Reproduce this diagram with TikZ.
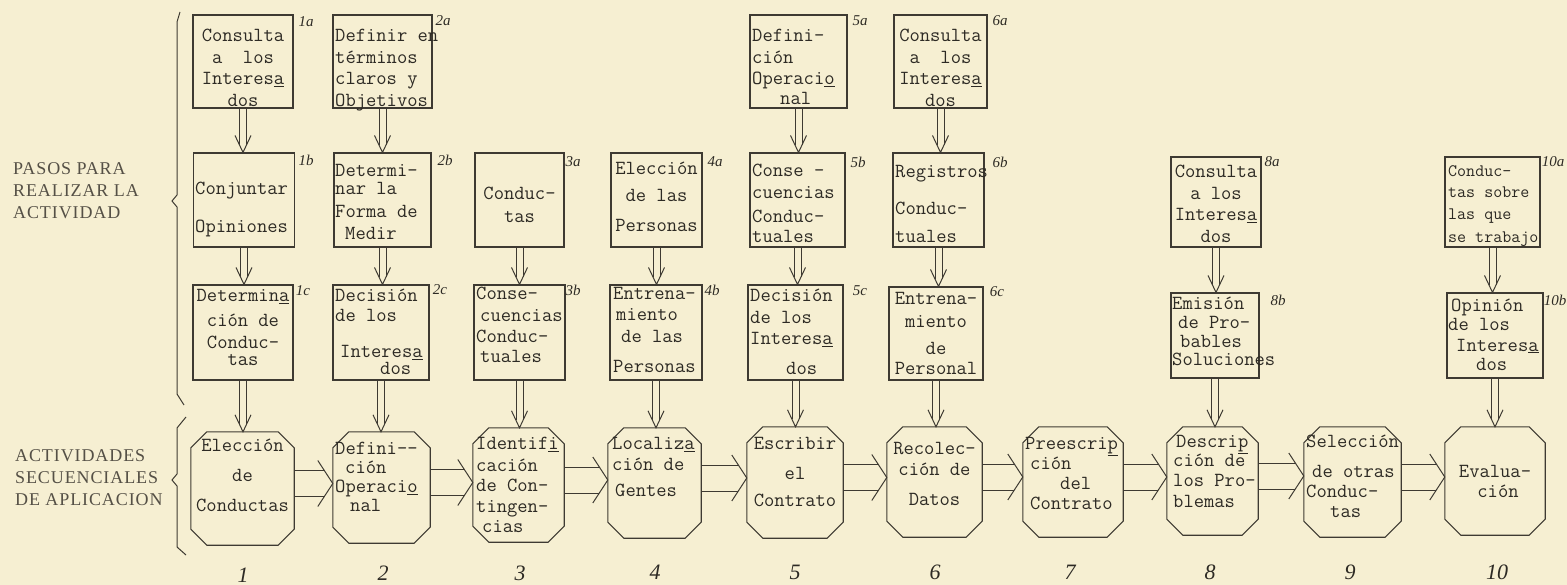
\documentclass[tikz,border=0pt]{standalone}
\usepackage{fontspec}
\usetikzlibrary{calc}
\newfontfamily\lblfont{Liberation Serif}
\newfontfamily\sidefont[LetterSpace=5]{Liberation Serif}
\definecolor{bgc}{RGB}{246,239,210}
\definecolor{linec}{RGB}{62,58,50}
\definecolor{textc}{RGB}{45,42,36}
\definecolor{lblc}{RGB}{85,80,70}
\def\ch{16}
\tikzset{
  boxline/.style={draw=linec, line width=1.1pt, line join=miter},
  stepbox/.style={boxline, rectangle, inner sep=0pt},
  actnode/.style={rectangle, inner sep=0pt},
  conn/.style={draw=linec, line width=1.0pt},
  btxt/.style={font=\ttfamily\fontsize{20}{21.5}\selectfont, inner sep=0pt, text=textc, align=center, anchor=north},
  btxtl/.style={font=\ttfamily\fontsize{20}{21.5}\selectfont, inner sep=0pt, text=textc, align=left, anchor=north west},
  tag/.style={font=\lblfont\itshape\fontsize{15}{15}\selectfont, inner sep=0pt, text=textc},
  numtag/.style={font=\lblfont\itshape\fontsize{22}{22}\selectfont, inner sep=0pt, text=textc},
  sidelbl/.style={font=\sidefont\fontsize{18}{22}\selectfont, inner sep=0pt, text=lblc, align=left, anchor=north west},
}
\newcommand\mkstep[5]{\node[stepbox, minimum width=#4pt, minimum height=#5pt] (#1) at (#2,#3) {};}
\newcommand\octo[5]{%
  \node[actnode, minimum width=#4pt, minimum height=#5pt] (#1) at (#2,#3) {};
  \draw[boxline] ($(#1.north west)+(\ch,0)$) -- ($(#1.north east)+(-\ch,0)$) -- ($(#1.north east)+(0,\ch)$) -- ($(#1.south east)+(0,-\ch)$) -- ($(#1.south east)+(-\ch,0)$) -- ($(#1.south west)+(\ch,0)$) -- ($(#1.south west)+(0,-\ch)$) -- ($(#1.north west)+(0,\ch)$) -- cycle;}
\newcommand\vconn[2]{%
  \draw[conn] ($(#1.south)+(-3.5,0)$) -- ($(#1.south |- #2.north)+(-3.5,-7.5)$);
  \draw[conn] ($(#1.south)+(3.5,0)$) -- ($(#1.south |- #2.north)+(3.5,-7.5)$);
  \draw[conn] ($(#1.south |- #2.north)+(-8,-17)$) -- (#1.south |- #2.north) -- ($(#1.south |- #2.north)+(8,-17)$);}
\newcommand\hconn[2]{%
  \draw[conn] ($(#1.east)+(0,-18)$) -- ($(#2.west |- #1.east)+(-8.5,-18)$);
  \draw[conn] ($(#1.east)+(0,8)$) -- ($(#2.west |- #1.east)+(-8.5,8)$);
  \draw[conn] ($(#2.west |- #1.east)+(-15,-28)$) -- ($(#2.west |- #1.east)+(0,-5)$) -- ($(#2.west |- #1.east)+(-15,18)$);}
\begin{document}
\begin{tikzpicture}[x=1pt,y=-1pt]
\fill[bgc] (0,0) rectangle (1567,585);
\useasboundingbox (0,0) rectangle (1567,585);

% side labels and braces
\node[sidelbl] (lblA) at (13,162) {PASOS PARA\\REALIZAR LA\\ACTIVIDAD};
\node[sidelbl] (lblB) at (15,449) {ACTIVIDADES\\SECUENCIALES\\DE APLICACION};
\draw[conn] (180,12) -- (177,22) -- (177,195) -- (172,201) -- (177,207) -- (177,394) -- (184,405);
\draw[conn] (186,417) -- (177,428) -- (177,474) -- (172,480) -- (177,486) -- (177,547) -- (186,555);

% step boxes
\mkstep{b1a}{243}{61.5}{100}{93}
\mkstep{b1b}{244}{200}{101}{94}
\mkstep{b1c}{243}{332.5}{100}{95}
\mkstep{b2a}{382.5}{61.5}{99}{93}
\mkstep{b2b}{382.5}{200}{97}{94}
\mkstep{b2c}{381}{332.5}{96}{95}
\mkstep{b3a}{519.5}{200}{89}{94}
\mkstep{b3b}{519.5}{332.5}{91}{95}
\mkstep{b4a}{656.5}{200}{91}{94}
\mkstep{b4b}{656}{332.5}{92}{95}
\mkstep{b5a}{798.5}{61.5}{97}{93}
\mkstep{b5b}{797.5}{200}{95}{94}
\mkstep{b5c}{795.5}{332.5}{95}{95}
\mkstep{b6a}{940.5}{61.5}{93}{93}
\mkstep{b6b}{938.5}{200}{91}{94}
\mkstep{b6c}{936}{333.5}{94}{93}
\mkstep{b8a}{1216}{202}{90}{90}
\mkstep{b8b}{1215}{335.5}{88}{85}
\mkstep{b10a}{1492.5}{202}{95}{90}
\mkstep{b10b}{1495}{335.5}{96}{85}

% activity octagons
\octo{o1}{242.5}{488.5}{103}{113}
\octo{o2}{381.5}{487.5}{97}{111}
\octo{o3}{518.5}{485}{91}{114}
\octo{o4}{654.5}{483}{93}{110}
\octo{o5}{795}{482.5}{96}{111}
\octo{o6}{934.5}{482}{95}{110}
\octo{o7}{1073}{482}{100}{110}
\octo{o8}{1212.5}{481}{91}{108}
\octo{o9}{1352.5}{482}{97}{110}
\octo{o10}{1495}{481}{100}{108}

% texts in step boxes
\node[btxt] (t1a) at (243,29) {Consulta\\a~~los\\Interes\underline{a}\\dos};
\node[btxtl] (t1b) at (195,182) {Conjuntar\\[16.5pt]Opiniones};
\node[btxt] (t1c) at (243,289) {Determin\underline{a}\\[4pt]ción de\\Conduc-\\[-4pt]tas};
\node[btxtl] (t2a) at (335,29) {Definir en\\términos\\claros y\\Objetivos};
\node[btxtl] (t2b) at (335,164) {Determi-\\[-3.5pt]nar la\\[1.5pt]Forma de\\[0.5pt]\hspace*{10pt}Medir};
\node[btxtl] (t2c) at (335,289) {Decisión\\[-1.5pt]de los\\[14.5pt]\hspace*{5pt}Interes\underline{a}\\[-4.5pt]\hspace*{45pt}dos};
\node[btxt] (t3a) at (519.5,187) {Conduc-\\[1.5pt]tas};
\node[btxtl] (t3b) at (476,287) {Conse-\\\hspace*{4pt}cuencias\\Conduc-\\[-1.5pt]\hspace*{4pt}tuales};
\node[btxt] (t4a) at (656.5,162) {Elección\\[5.5pt]de las\\[8.5pt]Personas};
\node[btxtl] (t4b) at (613,287) {Entrena-\\\hspace*{3pt}miento\\\hspace*{8pt}de las\\[8.5pt]Personas};
\node[btxtl] (t5a) at (752,29) {Defini-\\ción\\Operaci\underline{o}\\[-1.5pt]\hspace*{28pt}nal};
\node[btxtl] (t5b) at (752,164) {Conse -\\cuencias\\[2.5pt]Conduc-\\[-1.5pt]tuales};
\node[btxtl] (t5c) at (750,289) {Decisión\\de los\\Interes\underline{a}\\[8.5pt]\hspace*{36pt}dos};
\node[btxt] (t6a) at (940.5,29) {Consulta\\a~~los\\Interes\underline{a}\\dos};
\node[btxtl] (t6b) at (895,165) {Registros\\[15.5pt]Conduc-\\[6.5pt]tuales};
\node[btxt] (t6c) at (936,292) {Entrena-\\[1.5pt]miento\\[5.5pt]de\\[-1.5pt]Personal};
\node[btxt] (t8a) at (1216,165) {Consulta\\a los\\Interes\underline{a}\\dos};
\node[btxtl] (t8b) at (1172,297) {Emisión\\[-3pt]\hspace*{6pt}de Pro-\\[-2.5pt]\hspace*{8pt}bables\\[-3pt]Soluciones};
\node[btxtl, font=\ttfamily\fontsize{17.5}{21.5}\selectfont] (t10a) at (1448,165) {Conduc-\\tas sobre\\las que\\[1.5pt]se trabajo};
\node[btxtl] (t10b) at (1448,299) {\hspace*{3pt}Opinión\\[-2.5pt]de los\\[-1pt]\hspace*{8pt}Interes\underline{a}\\[-2.5pt]\hspace*{28pt}dos};

% texts in octagons
\node[btxt] (to1) at (242.5,439) {Elección\\[8.5pt]de\\[8.5pt]Conductas};
\node[btxtl] (to2) at (335,442) {Defini--\\[-2.5pt]\hspace*{10pt}ción\\[-2.5pt]Operaci\underline{o}\\[-3pt]\hspace*{15pt}nal};
\node[btxtl] (to3) at (476,437) {Identif\underline{i}\\cación\\[-1.5pt]de Con-\\tingen-\\[-1.5pt]\hspace*{6pt}cias};
\node[btxtl] (to4) at (612,437) {Localiz\underline{a}\\ción de\\[4.5pt]\hspace*{3pt}Gentes};
\node[btxt] (to5) at (795,437) {Escribir\\[8.5pt]el\\[5.5pt]Contrato};
\node[btxt] (to6) at (934.5,442) {Recolec-\\ción de\\[8.5pt]Datos};
\node[btxtl] (to7) at (1025,437) {Preescri\underline{p}\\[-1.5pt]\hspace*{5pt}ción\\[-1.5pt]\hspace*{35pt}del\\[-1.5pt]\hspace*{5pt}Contrato};
\node[btxtl] (to8) at (1173,435) {\hspace*{3pt}Descri\underline{p}\\[-2pt]ción de\\[-1.5pt]los Pro-\\[-0.5pt]blemas};
\node[btxtl] (to9) at (1306,435) {Selección\\[8.5pt]\hspace*{6pt}de otras\\[-1.5pt]Conduc-\\[-1.5pt]\hspace*{24pt}tas};
\node[btxt] (to10) at (1495,465) {Evalua-\\[-1.5pt]\hspace*{6pt}ción};

% tags
\node[tag] (g1a) at (306,22) {1a};
\node[tag] (g1b) at (306,160) {1b};
\node[tag] (g1c) at (303,291) {1c};
\node[tag] (g2a) at (443,21) {2a};
\node[tag] (g2b) at (445,160) {2b};
\node[tag] (g2c) at (440,290) {2c};
\node[tag] (g3a) at (573,162) {3a};
\node[tag] (g3b) at (573,290) {3b};
\node[tag] (g4a) at (715,162) {4a};
\node[tag] (g4b) at (712,290) {4b};
\node[tag] (g5a) at (860,21) {5a};
\node[tag] (g5b) at (858,162) {5b};
\node[tag] (g5c) at (860,291) {5c};
\node[tag] (g6a) at (1000,21) {6a};
\node[tag] (g6b) at (1000,162) {6b};
\node[tag] (g6c) at (997,292) {6c};
\node[tag] (g8a) at (1272,162) {8a};
\node[tag] (g8b) at (1278,300) {8b};
\node[tag] (g10a) at (1553,162) {10a};
\node[tag] (g10b) at (1555,300) {10b};

% numbers
\node[numtag] (n1) at (243,575) {1};
\node[numtag] (n2) at (383,573) {2};
\node[numtag] (n3) at (520,573) {3};
\node[numtag] (n4) at (655,572) {4};
\node[numtag] (n5) at (795,572) {5};
\node[numtag] (n6) at (935,572) {6};
\node[numtag] (n7) at (1070,572) {7};
\node[numtag] (n8) at (1210,572) {8};
\node[numtag] (n9) at (1350,572) {9};
\node[numtag] (n10) at (1497,572) {10};

% vertical connectors
\vconn{b1a}{b1b}\vconn{b1b}{b1c}\vconn{b1c}{o1}
\vconn{b2a}{b2b}\vconn{b2b}{b2c}\vconn{b2c}{o2}
\vconn{b3a}{b3b}\vconn{b3b}{o3}
\vconn{b4a}{b4b}\vconn{b4b}{o4}
\vconn{b5a}{b5b}\vconn{b5b}{b5c}\vconn{b5c}{o5}
\vconn{b6a}{b6b}\vconn{b6b}{b6c}\vconn{b6c}{o6}
\vconn{b8a}{b8b}\vconn{b8b}{o8}
\vconn{b10a}{b10b}\vconn{b10b}{o10}

% horizontal connectors
\hconn{o1}{o2}\hconn{o2}{o3}\hconn{o3}{o4}\hconn{o4}{o5}\hconn{o5}{o6}
\hconn{o6}{o7}\hconn{o7}{o8}\hconn{o8}{o9}\hconn{o9}{o10}
\end{tikzpicture}
\end{document}
